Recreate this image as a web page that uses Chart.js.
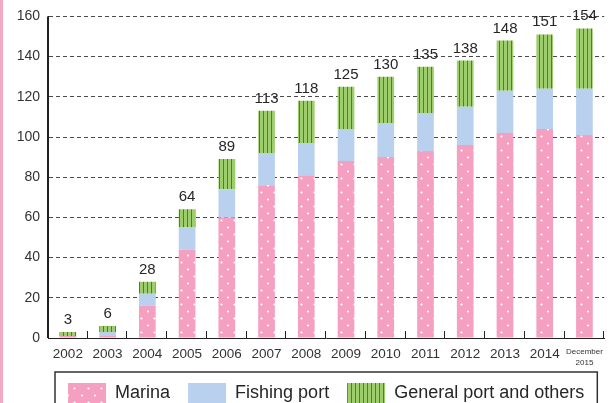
<!DOCTYPE html>
<html>
<head>
<meta charset="utf-8">
<script src="https://cdn.jsdelivr.net/npm/chart.js@4.4.1/dist/chart.umd.min.js"></script>
<style>
  html, body { margin: 0; padding: 0; background: #fff; overflow: hidden; }
  #wrap { position: relative; width: 611px; height: 413px; }
</style>
</head>
<body>
<div id="wrap"><canvas id="grafico"></canvas></div>
<script>
// datos
const years = ['2002', '2003', '2004', '2005', '2006', '2007', '2008', '2009', '2010', '2011', '2012', '2013', '2014', ['December', '2015']];
const marina = [1, 1, 16, 44, 60, 76, 81, 88, 90, 93, 96, 102, 104, 101];
const fishing = [0, 2, 6, 11, 14, 16, 16, 16, 17, 19, 19, 21, 20, 23];
const general = [2, 3, 6, 9, 15, 21, 21, 21, 23, 23, 23, 25, 27, 30];
const totals = [3, 6, 28, 64, 89, 113, 118, 125, 130, 135, 138, 148, 151, 154];
const yTicks = [0, 20, 40, 60, 80, 100, 120, 140, 160];

const fuente = "'Liberation Sans', Arial, Helvetica, sans-serif";
const ink = '#262626';

// patrones de relleno
const makeDots = () => {
    const c = document.createElement('canvas');
    c.width = 40; c.height = 14;
    const g = c.getContext('2d');
    g.fillStyle = '#f5a0c1';
    g.fillRect(0, 0, 40, 14);
    g.fillStyle = '#ffffff';
    [2, 15, 28].forEach(x => { g.beginPath(); g.arc(x, 3.5, 1.1, 0, Math.PI * 2); g.fill(); });
    [8.5, 21.5, 34.5].forEach(x => { g.beginPath(); g.arc(x, 10.5, 1.1, 0, Math.PI * 2); g.fill(); });
    return g.createPattern(c, 'repeat');
};

const makeStripes = () => {
    const c = document.createElement('canvas');
    c.width = 4; c.height = 4;
    const g = c.getContext('2d');
    g.fillStyle = '#9ecd6d';
    g.fillRect(0, 0, 4, 4);
    g.fillStyle = '#66676d';
    g.fillRect(3, 0, 1, 4);
    return g.createPattern(c, 'repeat');
};

const extras = {
    id: 'extras',
    beforeDraw(chart) {
        const ctx = chart.ctx;
        ctx.save();
        ctx.fillStyle = '#ffffff';
        ctx.fillRect(0, 0, chart.width, chart.height);
        ctx.fillStyle = '#f5a9c0';
        ctx.fillRect(0, 0, 3, chart.height);
        ctx.restore();
    },
    afterDatasetsDraw(chart) {
        const ctx = chart.ctx;
        const top = chart.getDatasetMeta(2);
        ctx.save();
        ctx.font = '15px ' + fuente;
        ctx.fillStyle = ink;
        ctx.textAlign = 'center';
        ctx.textBaseline = 'alphabetic';
        totals.forEach((t, i) => {
            const el = top.data[i];
            ctx.fillText(String(t), el.x, el.y - 8);
        });
        ctx.restore();
    },
    afterDraw(chart) {
        const ctx = chart.ctx;
        const xs = chart.scales.x;
        const area = chart.chartArea;
        const paso = xs.getPixelForValue(1) - xs.getPixelForValue(0);
        ctx.save();
        ctx.strokeStyle = '#222';
        ctx.lineWidth = 1;
        ctx.beginPath();
        // eje vertical
        ctx.moveTo(Math.round(area.left) - 0.5, area.top);
        ctx.lineTo(Math.round(area.left) - 0.5, area.bottom);
        // marcas hacia dentro entre categorias
        for (let i = 0; i < years.length; i++) {
            const x = Math.round(xs.getPixelForValue(i) + paso / 2) - 0.5;
            ctx.moveTo(x, area.bottom);
            ctx.lineTo(x, area.bottom - 7);
        }
        ctx.stroke();
        // caja de la leyenda
        const lg = chart.legend;
        ctx.lineWidth = 1.5;
        ctx.strokeStyle = '#333';
        ctx.strokeRect(area.left + 7, lg.top + 7, area.right - area.left - 14, 80);
        ctx.restore();
    }
};

const ctxGrafico = document.getElementById('grafico').getContext('2d');

const grafico = new Chart(ctxGrafico, {
    type: 'bar',
    data: {
        labels: years,
        datasets: [
            { label: 'Marina', data: marina, backgroundColor: makeDots(), borderWidth: 0, borderColor: 'transparent' },
            { label: 'Fishing port', data: fishing, backgroundColor: '#b9d1ee', borderWidth: 0, borderColor: 'transparent' },
            { label: 'General port and others', data: general, backgroundColor: makeStripes(), borderWidth: 0, borderColor: 'transparent' }
        ]
    },
    options: {
        responsive: true,
        maintainAspectRatio: false,
        animation: false,
        layout: { padding: { top: 16, right: 3, left: 0, bottom: 0 } },
        datasets: { bar: { barPercentage: 0.42, categoryPercentage: 1 } },
        plugins: {
            tooltip: { enabled: false },
            legend: {
                position: 'bottom',
                fullSize: false,
                labels: {
                    boxWidth: 38,
                    boxHeight: 20,
                    padding: 18,
                    color: ink,
                    font: { family: fuente, size: 18 }
                }
            }
        },
        scales: {
            x: {
                stacked: true,
                grid: { display: false, drawTicks: false },
                border: { display: true, color: '#222', width: 1 },
                ticks: {
                    padding: 8,
                    maxRotation: 0,
                    autoSkip: false,
                    color: '#333',
                    font: (c) => c.index === 13
                        ? { family: fuente, size: 8, lineHeight: 1.4 }
                        : { family: fuente, size: 13.5, lineHeight: 1.2 }
                },
                afterFit: (s) => { s.height = 27; }
            },
            y: {
                stacked: true,
                min: 0,
                max: 160,
                afterBuildTicks: (s) => { s.ticks = yTicks.map(v => ({ value: v })); },
                grid: { color: '#4a4a4a', lineWidth: 1, drawTicks: false },
                border: { display: true, color: '#222', width: 1, dash: [4, 3] },
                ticks: {
                    padding: 8,
                    color: '#333',
                    font: { family: fuente, size: 14 }
                },
                afterFit: (s) => { s.width = 48; }
            }
        }
    },
    plugins: [extras]
});
</script>
</body>
</html>
